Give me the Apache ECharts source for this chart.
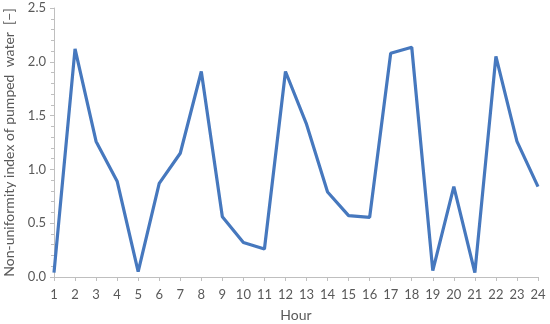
<!DOCTYPE html>
<html>
<head>
<meta charset="utf-8">
<script src="https://cdn.jsdelivr.net/npm/echarts@6/dist/echarts.min.js"></script>
<style>
  html, body { margin: 0; padding: 0; background: #fff; }
  #chart { width: 550px; height: 324px; }
</style>
</head>
<body>
<div id="chart"></div>
<script>
// hours on the x axis
const hours = ['1','2','3','4','5','6','7','8','9','10','11','12','13','14','15','16','17','18','19','20','21','22','23','24'];
// non-uniformity index per hour
const indexValues = [0.04, 2.12, 1.26, 0.89, 0.05, 0.87, 1.15, 1.91, 0.56, 0.32, 0.26, 1.91,
                     1.42, 0.79, 0.57, 0.555, 2.08, 2.135, 0.06, 0.84, 0.04, 2.05, 1.26, 0.84];

const textColor = '#595959';
const axisColor = '#BFBFBF';
const fontName = 'Lato';

let chart = echarts.init(document.getElementById('chart'));
chart.setOption({
  animation: false,
  textStyle: { fontFamily: fontName, color: textColor },
  grid: { left: 54, right: 12, top: 8, bottom: 47, outerBoundsMode: 'none', containLabel: false },
  xAxis: {
    type: 'category',
    data: hours,
    boundaryGap: false,
    name: 'Hour',
    nameLocation: 'middle',
    nameGap: 31,
    nameTextStyle: { fontSize: 14, color: textColor, fontFamily: fontName },
    axisLine: { lineStyle: { color: axisColor } },
    axisTick: { alignWithLabel: true, length: 4, lineStyle: { color: axisColor } },
    axisLabel: { color: textColor, fontSize: 13, margin: 11, fontFamily: fontName }
  },
  yAxis: {
    type: 'value',
    min: 0,
    max: 2.5,
    interval: 0.5,
    name: 'Non-uniformity index of pumped  water  [\u2212]',
    nameLocation: 'middle',
    nameGap: 34,
    nameTextStyle: { fontSize: 14, color: textColor, fontFamily: fontName },
    axisLine: { show: true, lineStyle: { color: axisColor } },
    axisTick: { show: true, length: 4, lineStyle: { color: axisColor } },
    minorTick: { show: true, splitNumber: 5, length: 3, lineStyle: { color: axisColor } },
    splitLine: { show: false },
    axisLabel: {
      color: textColor,
      fontSize: 13,
      margin: 8,
      fontFamily: fontName,
      formatter: v => v.toFixed(1)
    }
  },
  series: [{
    type: 'line',
    data: indexValues,
    showSymbol: false,
    lineStyle: { color: '#4678BE', width: 3.2 },
    itemStyle: { color: '#4678BE' }
  }]
});
</script>
</body>
</html>
